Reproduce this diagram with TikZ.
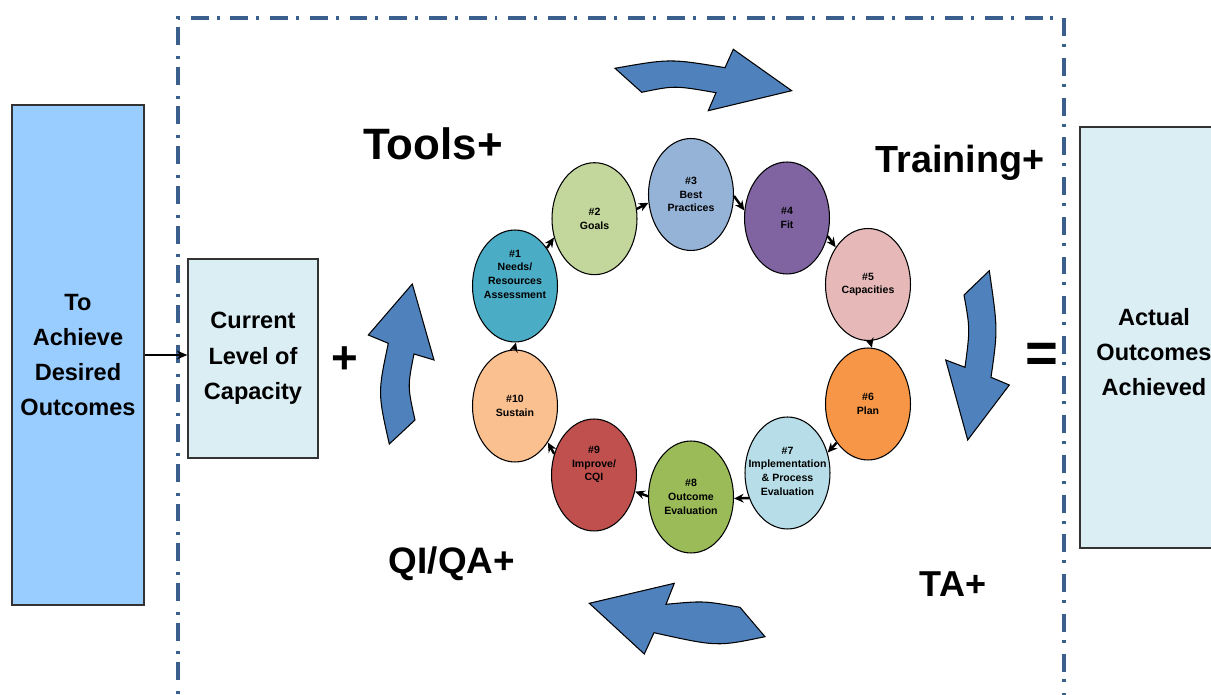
\documentclass[tikz,border=0pt]{standalone}
\usepackage{fontspec}
\setmainfont{Liberation Sans}
\usetikzlibrary{shapes.geometric,arrows.meta}

\definecolor{frameblue}{RGB}{59,95,140}
\definecolor{goalfill}{RGB}{153,204,255}
\definecolor{palefill}{RGB}{219,238,244}
\definecolor{bigarrow}{RGB}{79,129,189}
\definecolor{c1}{RGB}{75,172,198}
\definecolor{c2}{RGB}{195,214,155}
\definecolor{c3}{RGB}{149,179,215}
\definecolor{c4}{RGB}{128,100,162}
\definecolor{c5}{RGB}{230,185,184}
\definecolor{c6}{RGB}{247,150,70}
\definecolor{c7}{RGB}{183,222,232}
\definecolor{c8}{RGB}{155,187,89}
\definecolor{c9}{RGB}{192,80,77}
\definecolor{c10}{RGB}{250,192,144}

\tikzset{
  box/.style={draw=black!80, line width=0.7pt, rectangle, inner sep=0pt,
    font=\bfseries\fontsize{13.4}{20.1}\selectfont, align=center},
  stepell/.style={ellipse, draw=black, line width=0.6pt, inner sep=0pt,
    minimum width=1.7cm, minimum height=2.24cm,
    font=\bfseries\fontsize{6}{7.8}\selectfont, align=center},
  etext/.style={font=\bfseries\fontsize{6}{7.8}\selectfont, align=center, inner sep=0pt},
  cyc/.style={-{Stealth[length=5.5pt,width=5pt]}, line width=1.4pt, black},
  blockarrow/.style={fill=bigarrow, draw=black, line width=0.6pt, line join=miter},
  bigword/.style={font=\bfseries\fontsize{#1}{#1}\selectfont, inner sep=0pt, anchor=base},
}

\begin{document}
\begin{tikzpicture}[x=0.02cm, y=-0.02cm]
\useasboundingbox (0,0) rectangle (1211,695);

% dash-dot frame around the capacity-building stage
\draw[frameblue, line width=1.8pt,
      dash pattern=on 10.2pt off 4.5pt on 1.7pt off 6.2pt]
  (178,720) -- (178,18) -- (1064,18) -- (1064,720);

% outer boxes
\node[box, fill=goalfill, minimum width=2.64cm, minimum height=10cm]
  (goal) at (78,355) {To\\Achieve\\Desired\\Outcomes};
\node[box, fill=palefill, minimum width=2.6cm, minimum height=3.98cm]
  (cur) at (253,358.5) {Current\\Level of\\Capacity};
\node[box, fill=palefill, minimum width=3cm, minimum height=8.42cm]
  (act) at (1155,337.5) {};
\node[box, draw=none] (acttxt) at (1154,352) {Actual\\Outcomes\\Achieved};

\draw[-{Stealth[length=6pt,width=5pt]}, line width=0.9pt]
  (goal.east) -- (goal.east -| cur.west);

% operators
\node[bigword=26] (plus) at (345,374) {+};
\node[bigword=32] (eq) at (1042,373) {=};

% support labels
\node[bigword=25] (tools) at (433,160) {Tools+};
\node[bigword=21.5] (train) at (960,172.5) {Training+};
\node[bigword=21] (qiqa) at (452,573.5) {QI/QA+};
\node[bigword=20.5] (ta) at (953,596.5) {TA+};

% curved block arrows around the cycle
\draw[blockarrow] (615,68.3) .. controls (670,58.6) .. (725,67.7)
  -- (733.3,49.3) -- (791.7,90.7) -- (708.3,110.7) -- (716,92.7)
  .. controls (674.6,85.5) .. (641.7,92.3) -- cycle;
\draw[blockarrow] (989.3,270.7) -- (964,295)
  .. controls (970.1,328.9) .. (965,367.3)
  -- (945.7,360) -- (967.7,440) -- (1009.3,385) -- (991,377.3)
  .. controls (997.85,329.4) .. (989.3,270.7) -- cycle;
\draw[blockarrow] (589.3,603.3) -- (674.3,583.3) -- (666,604.3)
  .. controls (703.6,600.8) .. (740,607.3) -- (765,636.7)
  .. controls (717.1,646.7) .. (654,632.7) -- (644.3,654) -- cycle;
\draw[blockarrow] (389.3,444) .. controls (377.8,393) .. (388.3,343.3)
  -- (368.3,335) -- (412.3,284) -- (434,360) -- (414,354)
  .. controls (407.5,386.4) .. (415,420) -- cycle;

% ten-step cycle
\node[stepell, fill=c1] (e1) at (515,286) {};
\node[etext] (t1) at (515,274) {\#1\\Needs/\\Resources\\Assessment};
\node[stepell, fill=c2] (e2) at (594.5,218.7) {\#2\\Goals};
\node[stepell, fill=c3] (e3) at (691,194.5) {\#3\\Best\\Practices};
\node[stepell, fill=c4] (e4) at (787,218) {\#4\\Fit};
\node[stepell, fill=c5] (e5) at (868,284.5) {\#5\\Capacities};
\node[stepell, fill=c6] (e6) at (868,404) {\#6\\Plan};
\node[stepell, fill=c7] (e7) at (787.5,473) {};
\node[etext] (t7) at (787.5,471) {\#7\\Implementation\\\& Process\\Evaluation};
\node[stepell, fill=c8] (e8) at (691,497) {\#8\\Outcome\\Evaluation};
\node[stepell, fill=c9] (e9) at (594,475) {};
\node[etext] (t9) at (594,464.5) {\#9\\Improve/\\CQI};
\node[stepell, fill=c10] (e10) at (515,406) {\#10\\Sustain};

\draw[cyc] (e1.50) -- (e2.205);
\draw[cyc] (e2.13) -- (e3.191);
\draw[cyc] (e3.-2) -- (e4.170);
\draw[cyc] (e4.-24) -- (e5.131);
\draw[cyc] (e5.-88) -- (e6.86);
\draw[cyc] (e6.231) -- (e7.27);
\draw[cyc] (e7.213) -- (e8.-2);
\draw[cyc] (e8.179) -- (e9.-22);
\draw[cyc] (e9.152) -- (e10.-48);
\draw[cyc] (e10.91) -- (e1.-89);
\end{tikzpicture}
\end{document}
